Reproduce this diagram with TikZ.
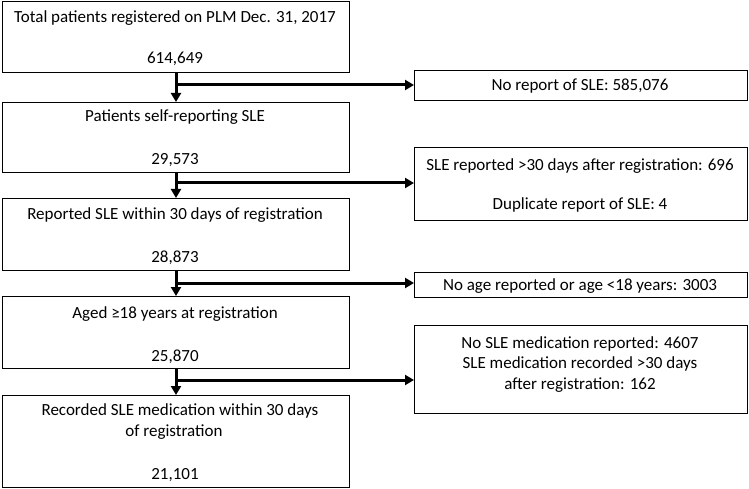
\documentclass[tikz,border=0pt]{standalone}
\usepackage{fontspec}
\setmainfont{Carlito}
\usetikzlibrary{arrows.meta}
\begin{document}
\begin{tikzpicture}[x=1pt,y=-1pt,
  box/.style={draw=black,line width=0.9pt,fill=white},
  txt/.style={inner sep=0pt,font=\fontsize{17}{20}\selectfont,anchor=base},
  flow/.style={line width=3pt,-{Triangle[length=9pt,width=10pt]}},
  branch/.style={line width=3pt}]
\useasboundingbox (0,0) rectangle (749,489);
% main boxes
\draw[box] (2,1) rectangle (349,72);
\draw[box] (2,102) rectangle (349,172);
\draw[box] (2,198) rectangle (349,270);
\draw[box] (2,296) rectangle (349,368);
\draw[box] (2,395) rectangle (349,487);
% side boxes
\draw[box] (414,70) rectangle (747,100);
\draw[box] (414,147) rectangle (747,220);
\draw[box] (414,272) rectangle (747,297);
\draw[box] (414,325) rectangle (747,413);
% named anchors
\coordinate (b1s) at (176,72);
\coordinate (b2n) at (176,102);
\coordinate (b2s) at (176,172);
\coordinate (b3n) at (176,198);
\coordinate (b3s) at (176,270);
\coordinate (b4n) at (176,296);
\coordinate (b4s) at (176,368);
\coordinate (b5n) at (176,395);
\coordinate (j1) at (176,85);
\coordinate (j2) at (176,183);
\coordinate (j3) at (176,283);
\coordinate (j4) at (176,380);
\coordinate (aw) at (414,85);
\coordinate (bw) at (414,183);
\coordinate (cw) at (414,283);
\coordinate (dw) at (414,380);
% texts
\node[txt] (t1a) at (175,23) {Total patients registered on PLM Dec. 31, 2017};
\node[txt] (t1b) at (175,64) {614,649};
\node[txt] (t2a) at (175,122) {Patients self-reporting SLE};
\node[txt] (t2b) at (175,165) {29,573};
\node[txt] (t3a) at (175,219) {Reported SLE within 30 days of registration};
\node[txt] (t3b) at (175,262) {28,873};
\node[txt] (t4a) at (175,318) {Aged ≥18 years at registration};
\node[txt] (t4b) at (175,361) {25,870};
\node[txt] (t5a) at (180,415) {Recorded SLE medication within 30 days};
\node[txt] (t5b) at (174,436) {of registration};
\node[txt] (t5c) at (175,479) {21,101};
\node[txt] (ta) at (580,91) {No report of SLE: 585,076};
\node[txt] (tb1) at (580,171) {SLE reported >30 days after registration: 696};
\node[txt] (tb2) at (580,209) {Duplicate report of SLE: 4};
\node[txt] (tc) at (580,290) {No age reported or age <18 years: 3003};
\node[txt] (td1) at (580,348) {No SLE medication reported: 4607};
\node[txt] (td2) at (580,368) {SLE medication recorded >30 days};
\node[txt] (td3) at (580,389) {after registration: 162};
% connectors
\draw[flow] (b1s) -- (b2n);
\draw[flow] (b2s) -- (b3n);
\draw[flow] (b3s) -- (b4n);
\draw[flow] (b4s) -- (b5n);
\draw[flow] (j1) -- (aw);
\draw[flow] (j2) -- (bw);
\draw[flow] (j3) -- (cw);
\draw[flow] (j4) -- (dw);
\end{tikzpicture}
\end{document}
